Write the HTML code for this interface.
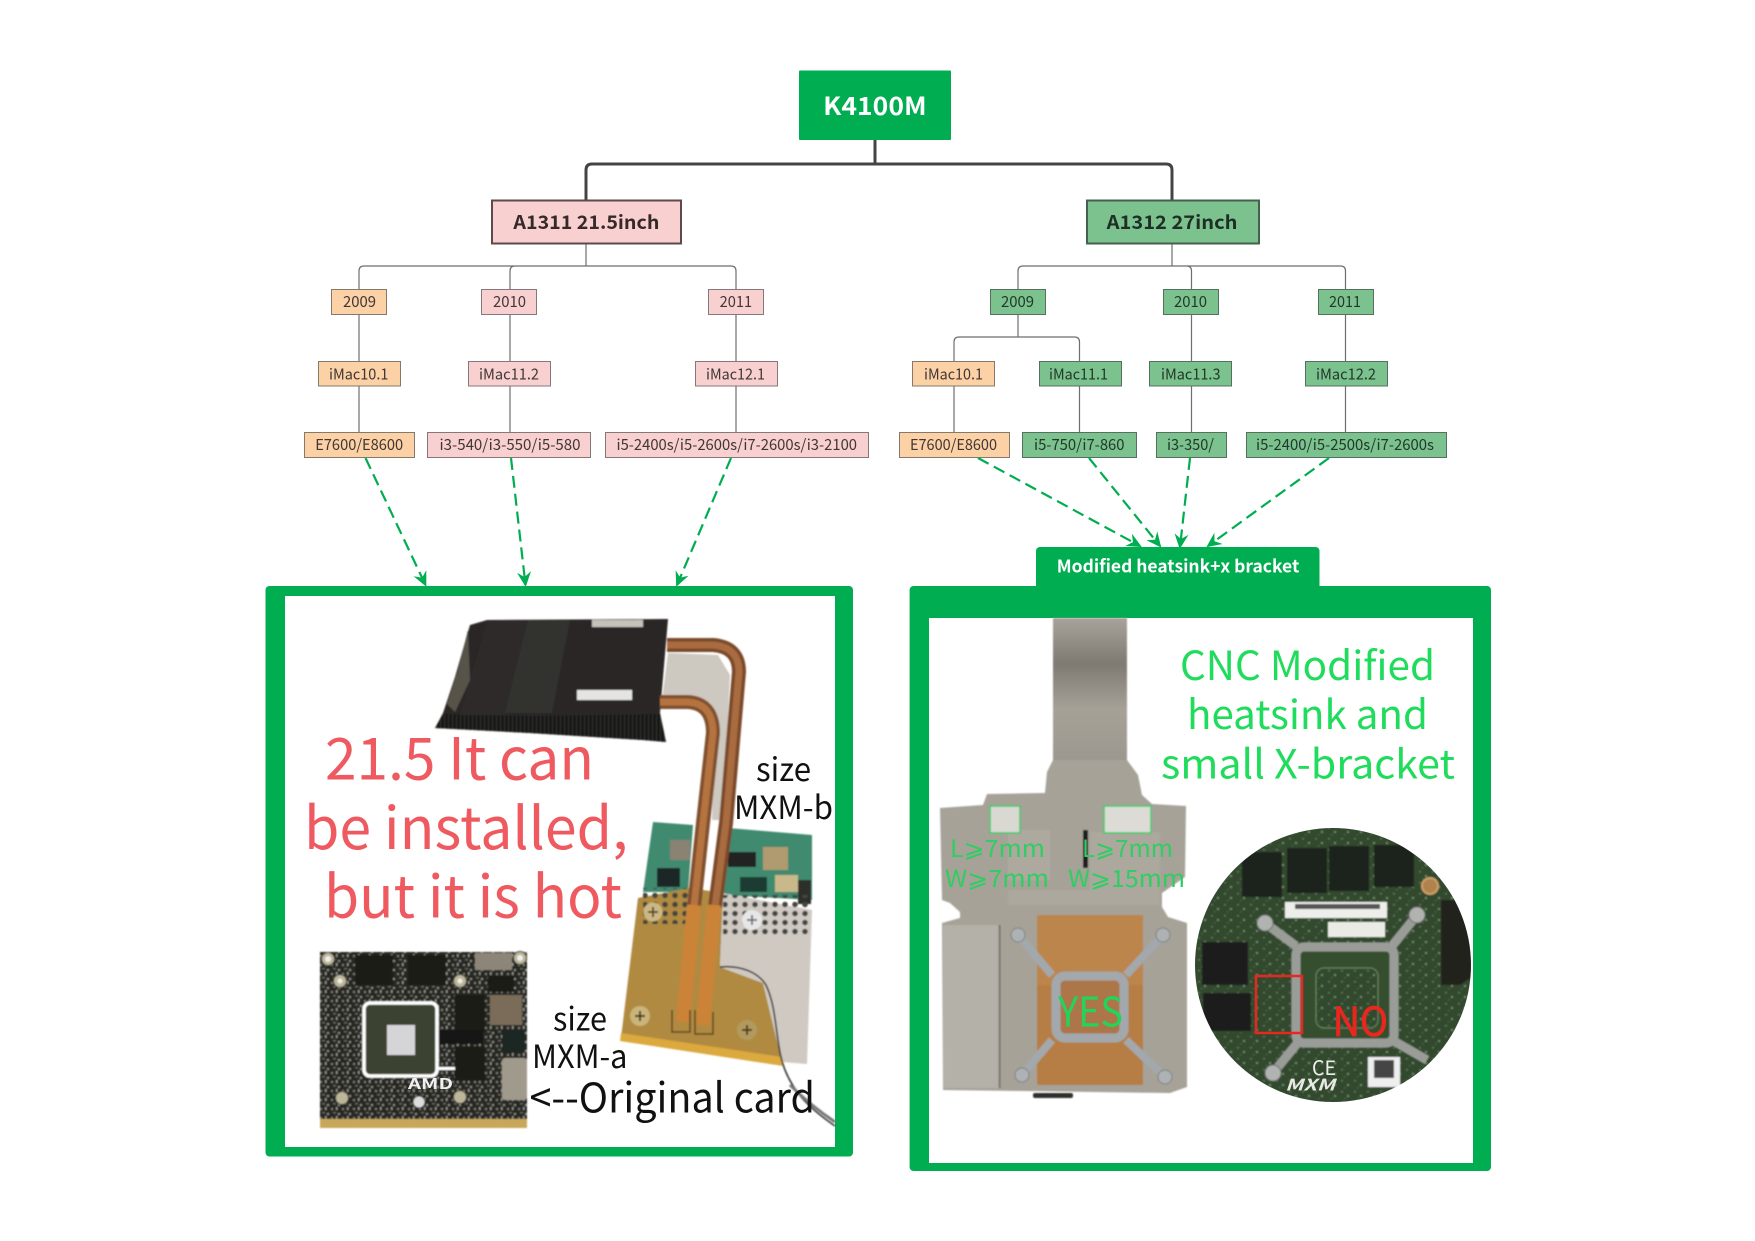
<!DOCTYPE html>
<html lang="en"><head><meta charset="utf-8"><title>K4100M</title>
<style>
html,body{margin:0;padding:0;background:#fff}
svg{display:block}
text{font-family:"Noto Sans CJK SC","Liberation Sans",sans-serif}
.y{font-size:15px;fill:#3f3636}
.g{font-size:15px;fill:#22382a}
.b{font-weight:700}
.r{font-size:58px;fill:#ee5a60}
.k{font-size:32px;fill:#111}
.c{font-size:40px;fill:#20dc5c}
.m{font-size:24px;fill:#2fce62}
</style></head><body>
<svg xmlns="http://www.w3.org/2000/svg" width="1755" height="1241" viewBox="0 0 1755 1241">
<defs>
<marker id="a" markerWidth="18" markerHeight="16" refX="13" refY="8" orient="auto" markerUnits="userSpaceOnUse"><path d="M0 1 L15 8 L0 15 L5 8Z" fill="#00ad50"/></marker>
<pattern id="sp" width="11" height="9" patternUnits="userSpaceOnUse"><rect width="11" height="9" fill="#262624"/><rect x="1" y="1" width="2" height="2" fill="#7c7c76"/><rect x="6" y="0" width="1.5" height="3" fill="#96968f"/><rect x="3" y="5" width="3" height="1.5" fill="#65655f"/><rect x="8" y="6" width="2" height="2" fill="#8b8b84"/></pattern>
<pattern id="gs" width="13" height="11" patternUnits="userSpaceOnUse"><rect width="13" height="11" fill="#33492d"/><rect x="2" y="2" width="2" height="1.5" fill="#5c7555"/><rect x="8" y="6" width="2" height="2" fill="#6f8a68"/><rect x="5" y="9" width="1.5" height="1.5" fill="#4a6344"/></pattern>
<pattern id="fin" width="4" height="4" patternUnits="userSpaceOnUse"><rect width="4" height="4" fill="#151413"/><rect width="1.2" height="4" fill="#302e2c"/></pattern>
<pattern id="dot" width="10" height="9" patternUnits="userSpaceOnUse"><circle cx="5" cy="4.5" r="2.8" fill="#45453f"/></pattern>
<linearGradient id="neck" x1="0" y1="0" x2="0" y2="1"><stop offset="0" stop-color="#a8a39a"/><stop offset=".3" stop-color="#7e7a72"/><stop offset=".6" stop-color="#a5a197"/><stop offset="1" stop-color="#9a968d"/></linearGradient>
<clipPath id="cc"><ellipse cx="1333" cy="965" rx="138" ry="137"/></clipPath>
<filter id="bl" x="-5%" y="-5%" width="110%" height="110%"><feGaussianBlur stdDeviation="0.7"/></filter>
</defs>

<!-- root connectors -->
<path d="M875 140V164M586 200V170Q586 164 592 164H1166Q1172 164 1172 170V200" fill="none" stroke="#444" stroke-width="3"/>
<g fill="none" stroke="#6e6e6e" stroke-width="1.2">
<path d="M586 243V266M359 289V271Q359 266 364 266H731Q736 266 736 271V289M510 289V271Q510 266 515 266H586"/>
<path d="M359 315V361M359 386V432M510 315V361M510 386V432M736 315V361M736 386V432"/>
<path d="M1172 243V266M1018 289V271Q1018 266 1023 266H1340.5Q1345.5 266 1345.5 271V289M1172 266H1186.5Q1191.5 266 1191.5 271V289"/>
<path d="M1018 315V337M954 361V342Q954 337 959 337H1074.5Q1079.5 337 1079.5 342V361"/>
<path d="M954 386V432M1079.5 386V432M1191.5 315V361M1191.5 386V432M1345.5 315V361M1345.5 386V432"/>
</g>

<!-- root -->
<rect x="799" y="70.5" width="152" height="69.5" rx="1" fill="#00ad50"/>
<text x="823.2" y="115" textLength="103.4" lengthAdjust="spacingAndGlyphs" font-size="25" font-weight="700" fill="#fff">K4100M</text>

<rect x="492" y="200.5" width="189" height="43" fill="#f8d0d0" stroke="#5e4a4a" stroke-width="2"/>
<text class="b" x="513.4" y="229" textLength="146" lengthAdjust="spacingAndGlyphs" font-size="19" fill="#35292a">A1311 21.5inch</text>
<rect x="1087" y="200.5" width="172" height="43" fill="#7bc28e" stroke="#44604e" stroke-width="2"/>
<text class="b" x="1106.7" y="229" textLength="130.8" lengthAdjust="spacingAndGlyphs" font-size="19" fill="#1f2f25">A1312 27inch</text>

<!-- years -->
<g stroke-width="1">
<rect x="331.5" y="289.5" width="55" height="25" fill="#fbd1a5" stroke="#85796c"/>
<rect x="481.5" y="289.5" width="55" height="25" fill="#f8d0d0" stroke="#85777a"/>
<rect x="708.5" y="289.5" width="55" height="25" fill="#f8d0d0" stroke="#85777a"/>
<rect x="990.5" y="289.5" width="55" height="25" fill="#7bc28e" stroke="#55705e"/>
<rect x="1163.5" y="289.5" width="55" height="25" fill="#7bc28e" stroke="#55705e"/>
<rect x="1318.5" y="289.5" width="55" height="25" fill="#7bc28e" stroke="#55705e"/>

<rect x="318.5" y="361.5" width="82" height="24.5" fill="#fbd1a5" stroke="#85796c"/>
<rect x="468.5" y="361.5" width="82" height="24.5" fill="#f8d0d0" stroke="#85777a"/>
<rect x="695.5" y="361.5" width="82" height="24.5" fill="#f8d0d0" stroke="#85777a"/>
<rect x="912.5" y="361.5" width="82" height="24.5" fill="#fbd1a5" stroke="#85796c"/>
<rect x="1039.5" y="361.5" width="82" height="24.5" fill="#7bc28e" stroke="#55705e"/>
<rect x="1149.5" y="361.5" width="82" height="24.5" fill="#7bc28e" stroke="#55705e"/>
<rect x="1305.5" y="361.5" width="82" height="24.5" fill="#7bc28e" stroke="#55705e"/>

<rect x="304.5" y="432.5" width="110" height="25" fill="#fbd1a5" stroke="#85796c"/>
<rect x="427.5" y="432.5" width="163" height="25" fill="#f8d0d0" stroke="#85777a"/>
<rect x="605.5" y="432.5" width="263" height="25" fill="#f8d0d0" stroke="#85777a"/>
<rect x="899.5" y="432.5" width="110" height="25" fill="#fbd1a5" stroke="#85796c"/>
<rect x="1022.5" y="432.5" width="114" height="25" fill="#7bc28e" stroke="#55705e"/>
<rect x="1156.5" y="432.5" width="70" height="25" fill="#7bc28e" stroke="#55705e"/>
<rect x="1246.5" y="432.5" width="200" height="25" fill="#7bc28e" stroke="#55705e"/>
</g>
<g>
<text class="y" x="343" y="307" textLength="33" lengthAdjust="spacingAndGlyphs">2009</text>
<text class="y" x="493" y="307" textLength="33" lengthAdjust="spacingAndGlyphs">2010</text>
<text class="y" x="719.6" y="307" textLength="32.5" lengthAdjust="spacingAndGlyphs">2011</text>
<text class="g" x="1001" y="307" textLength="33" lengthAdjust="spacingAndGlyphs">2009</text>
<text class="g" x="1174" y="307" textLength="33" lengthAdjust="spacingAndGlyphs">2010</text>
<text class="g" x="1329" y="307" textLength="32" lengthAdjust="spacingAndGlyphs">2011</text>

<text class="y" x="329" y="379.5" textLength="59.4" lengthAdjust="spacingAndGlyphs">iMac10.1</text>
<text class="y" x="479" y="379.5" textLength="60" lengthAdjust="spacingAndGlyphs">iMac11.2</text>
<text class="y" x="706" y="379.5" textLength="59" lengthAdjust="spacingAndGlyphs">iMac12.1</text>
<text class="y" x="924" y="379.5" textLength="59" lengthAdjust="spacingAndGlyphs">iMac10.1</text>
<text class="g" x="1049" y="379.5" textLength="59" lengthAdjust="spacingAndGlyphs">iMac11.1</text>
<text class="g" x="1161" y="379.5" textLength="59.5" lengthAdjust="spacingAndGlyphs">iMac11.3</text>
<text class="g" x="1316" y="379.5" textLength="60" lengthAdjust="spacingAndGlyphs">iMac12.2</text>

<text class="y" x="315.2" y="450" textLength="88" lengthAdjust="spacingAndGlyphs">E7600/E8600</text>
<text class="y" x="439.5" y="450" textLength="141" lengthAdjust="spacingAndGlyphs">i3-540/i3-550/i5-580</text>
<text class="y" x="616.5" y="450" textLength="240.5" lengthAdjust="spacingAndGlyphs">i5-2400s/i5-2600s/i7-2600s/i3-2100</text>
<text class="y" x="910" y="450" textLength="87" lengthAdjust="spacingAndGlyphs">E7600/E8600</text>
<text class="g" x="1034" y="450" textLength="90.5" lengthAdjust="spacingAndGlyphs">i5-750/i7-860</text>
<text class="g" x="1167" y="450" textLength="47" lengthAdjust="spacingAndGlyphs">i3-350/</text>
<text class="g" x="1256" y="450" textLength="178" lengthAdjust="spacingAndGlyphs">i5-2400/i5-2500s/i7-2600s</text>
</g>

<!-- dashed arrows -->
<g fill="none" stroke="#00ad50" stroke-width="2.2" stroke-dasharray="12 6">
<path d="M365.5 458L425.5 585" marker-end="url(#a)"/>
<path d="M511 458L525.5 585" marker-end="url(#a)"/>
<path d="M731 458L677 585" marker-end="url(#a)"/>
<path d="M978 458L1140 546" marker-end="url(#a)"/>
<path d="M1089 458L1160 546" marker-end="url(#a)"/>
<path d="M1190 458L1180 547" marker-end="url(#a)"/>
<path d="M1329 458L1208 546" marker-end="url(#a)"/>
</g>

<!-- LEFT PANEL -->
<rect x="265.5" y="586" width="587.5" height="570.5" rx="4" fill="#00ad50"/>
<rect x="285" y="596" width="550" height="551" fill="#fff"/>
<g filter="url(#bl)">
  <!-- heat sink -->
  <path d="M435 728L443 713L455 677L470 625L487 620L668 619L660 713L666 742L643 740L530 733Z" fill="#2b2826"/>
  <path d="M444 714L530 716L660 714L666 742L643 740L530 733L435 728Z" fill="url(#fin)"/>
  <path d="M460 715L487 622L528 620L505 715Z" fill="#2f2c29"/>
  <path d="M505 713L528 620L570 620L552 713Z" fill="#33302d"/>
  <path d="M447 704L458 670L468 630L470 680L455 712Z" fill="#595249"/>
  <rect x="592" y="620" width="51" height="7" fill="#c4c2ba"/>
  <rect x="577" y="690" width="55" height="10" fill="#e4e4e0"/>
  <!-- silver plate between pipes -->
  <path d="M668 653L718 655L730 675L723 820L712 820L713 733Q713 703 687 702L662 700Z" fill="#cdc8c0"/>
  <!-- board -->
  <path d="M653 822L693 825L688 892L643 892Z" fill="#3f8a6f"/>
  <path d="M728 828L812 835L812 900L723 895Z" fill="#3f8a6f"/>
  <rect x="657" y="868" width="23" height="19" fill="#1f2826"/>
  <rect x="670" y="840" width="20" height="20" fill="#8a8273"/>
  <rect x="728" y="852" width="28" height="15" fill="#222"/>
  <rect x="763" y="847" width="25" height="23" fill="#b09a70"/>
  <rect x="740" y="877" width="27" height="15" fill="#1f3a33"/>
  <rect x="775" y="875" width="23" height="17" fill="#c9b88a"/>
  <rect x="798" y="880" width="13" height="24" fill="#2d2d2a"/>
  <!-- plate -->
  <path d="M638 898L690 888L723 893L720 967L763 983L782 1062L621 1038Z" fill="#b08a40"/>
  <path d="M723 893L812 910L807 1064L782 1062L763 983L720 967Z" fill="#cfc9c2"/>
  <path d="M621 1033L782 1057L783 1066L620 1041Z" fill="#dba93e"/>
  <rect x="643" y="888" width="46" height="36" fill="url(#dot)"/>
  <rect x="723" y="895" width="88" height="42" fill="url(#dot)"/>
  <circle cx="653" cy="912" r="9.5" fill="#cbb884"/><path d="M648 912H658M653 907V917" stroke="#5a4a2a" stroke-width="2"/>
  <circle cx="752" cy="920" r="10" fill="#e7e7e8"/><path d="M747 920H757M752 915V925" stroke="#777" stroke-width="2"/>
  <circle cx="640" cy="1016" r="10" fill="#c9b47a"/><path d="M635 1016H645M640 1011V1021" stroke="#4a3a1a" stroke-width="2"/>
  <circle cx="747" cy="1030" r="10" fill="#b29a5e"/><path d="M742 1030H752M747 1025V1035" stroke="#4a3a1a" stroke-width="2"/>
  <!-- pipes -->
  <path d="M667 645H713Q739 647 739 672L726 823L715 907" fill="none" stroke="#7a4a2a" stroke-width="14"/>
  <path d="M667 645H713Q739 647 739 672L726 823L715 907" fill="none" stroke="#a96c40" stroke-width="7"/>
  <path d="M660 702H687Q713 703 713 733L703 823L694 907" fill="none" stroke="#80502e" stroke-width="14"/>
  <path d="M660 702H687Q713 703 713 733L703 823L694 907" fill="none" stroke="#b5733f" stroke-width="7"/>
  <path d="M694 905L683 1022" fill="none" stroke="#cb8338" stroke-width="14"/>
  <path d="M714 905L703 1025" fill="none" stroke="#cb8338" stroke-width="14"/>
  <path d="M672 1010V1032H690V1010M695 1010V1034H713V1012" fill="none" stroke="#5e4520" stroke-width="1.5"/>
  <!-- wire -->
  <path d="M720 967C740 965 758 972 766 985C778 1010 775 1045 785 1070C795 1095 812 1110 835 1126" fill="none" stroke="#333" stroke-width="1.6"/>
  <path d="M790 1085C805 1100 820 1112 835 1122" fill="none" stroke="#777" stroke-width="3"/>
</g>

<!-- AMD card -->
<g>
  <g filter="url(#bl)">
  <rect x="320" y="952" width="207" height="176" fill="url(#sp)"/>
  <rect x="320" y="1119" width="207" height="9" fill="#c9a75a"/>
  <rect x="355" y="955" width="38" height="30" fill="#1a1a19"/>
  <rect x="408" y="955" width="38" height="30" fill="#1a1a19"/>
  <rect x="455" y="995" width="30" height="37" fill="#1a1a19"/>
  <rect x="455" y="1046" width="30" height="35" fill="#1a1a19"/>
  <rect x="438" y="1030" width="45" height="14" fill="#171716"/>
  <rect x="502" y="1030" width="23" height="22" fill="#1e2624"/>
  <rect x="475" y="953" width="37" height="17" fill="#8c8578"/>
  <rect x="488" y="976" width="26" height="16" fill="#1a1a19"/>
  <rect x="490" y="995" width="32" height="30" fill="#7a6c58"/>
  <rect x="502" y="1058" width="25" height="42" rx="3" fill="#a09a8c"/>
  <rect x="364" y="1003" width="73" height="73" rx="6" fill="#3b4230" stroke="#fff" stroke-width="3.5"/>
  <rect x="387" y="1025" width="28" height="30" fill="#d5d5d8"/>
  <rect x="438" y="1067" width="17" height="3" fill="#fff"/>
  <g fill="#bdb69a" stroke="#3a372e">
  <circle cx="328" cy="959" r="6.5"/><circle cx="340" cy="981" r="6.5"/><circle cx="460" cy="981" r="6.5"/><circle cx="520" cy="958" r="6.5"/><circle cx="342" cy="1098" r="6.5"/><circle cx="460" cy="1097" r="6.5"/>
  </g>
  <g fill="#eee"><circle cx="328" cy="959" r="3"/><circle cx="520" cy="958" r="3"/><circle cx="340" cy="981" r="2.5"/><circle cx="460" cy="981" r="2.5"/></g>
  <circle cx="419" cy="1102" r="6" fill="#ddd" stroke="#222"/>
  </g>
  <text x="408" y="1089" textLength="45" lengthAdjust="spacingAndGlyphs" font-size="15" font-weight="700" fill="#f0f0f0">AMD</text>
</g>

<text class="r" x="325" y="779.5" textLength="269" lengthAdjust="spacingAndGlyphs">21.5 It can</text>
<text class="r" x="304" y="849" textLength="324" lengthAdjust="spacingAndGlyphs">be installed,</text>
<text class="r" x="324" y="917.5" textLength="298" lengthAdjust="spacingAndGlyphs">but it is hot</text>
<text class="k" x="756" y="781" textLength="55" lengthAdjust="spacingAndGlyphs">size</text>
<text class="k" x="734" y="819" textLength="99" lengthAdjust="spacingAndGlyphs">MXM-b</text>
<text class="k" x="553" y="1030.5" textLength="54" lengthAdjust="spacingAndGlyphs">size</text>
<text class="k" x="532" y="1068" textLength="95.5" lengthAdjust="spacingAndGlyphs">MXM-a</text>
<text x="529.5" y="1112.5" textLength="285.5" lengthAdjust="spacingAndGlyphs" font-size="41" fill="#111">&lt;--Original card</text>

<!-- RIGHT PANEL -->
<rect x="1036" y="547" width="283.5" height="45" rx="4" fill="#00ad50"/>
<rect x="909.6" y="586" width="581.4" height="585" rx="4" fill="#00ad50"/>
<rect x="929" y="618" width="544" height="545" fill="#fff"/>
<text x="1056.8" y="572.5" textLength="242.5" lengthAdjust="spacingAndGlyphs" font-size="17.5" font-weight="700" fill="#fff">Modified heatsink+x bracket</text>

<!-- right heat sink -->
<g filter="url(#bl)">
  <rect x="1053" y="618" width="74" height="152" fill="url(#neck)"/>
  <path d="M1053 760L1047 772L1045 793L987 794L983 805L940 808L942 900L950 903L960 912L960 918L942 923L943 1090L1170 1093L1187 1087L1187 923L1168 917L1162 907L1162 893L1185 877L1186 806L1152 804L1142 795L1138 775L1127 760Z" fill="#a6a298"/>
  <rect x="943" y="925" width="55" height="163" fill="#b4b1a8"/>
  <rect x="999" y="925" width="1.5" height="163" fill="#6e6b64"/>
  <path d="M1008 830H1050V880H1008Z" fill="#b2aea4" opacity=".6"/>
  <path d="M1090 832H1160V905H1008V890H1090Z" fill="#b0aca2" opacity=".6"/>
  <rect x="1083" y="830" width="5" height="38" fill="#1c1c1a"/>
  <rect x="1037" y="915" width="106" height="170" rx="2" fill="#b67e45"/>
  <path d="M1037 915H1143V985H1037Z" fill="#bc854c"/>
  <rect x="990" y="806" width="30" height="27" fill="#d9d8d2" stroke="#2ccb5f" stroke-width="1.5"/>
  <rect x="1104" y="806" width="47" height="27" fill="#dcdbd6" stroke="#2ccb5f" stroke-width="1.5"/>
  <!-- bracket -->
  <g fill="none" stroke="#a3a8ac" stroke-width="8">
    <path d="M1018 935L1052 975M1163 935L1126 975M1022 1075L1052 1040M1165 1077L1126 1040"/>
  </g>
  <rect x="1056" y="976" width="68" height="62" rx="9" fill="#ad7648" stroke="#a3a8ac" stroke-width="9"/>
  <g fill="#aeb2b5" stroke="#7b7f83"><circle cx="1018" cy="935" r="7"/><circle cx="1163" cy="935" r="7"/><circle cx="1022" cy="1075" r="7"/><circle cx="1165" cy="1077" r="7"/></g>
  <rect x="1033" y="1093" width="40" height="5" rx="2" fill="#2d2d2b"/>
</g>
<text class="m" x="950" y="857" textLength="95" lengthAdjust="spacingAndGlyphs">L⩾7mm</text>
<text class="m" x="1082" y="857" textLength="91" lengthAdjust="spacingAndGlyphs">L⩾7mm</text>
<text class="m" x="945" y="887" textLength="104" lengthAdjust="spacingAndGlyphs">W⩾7mm</text>
<text class="m" x="1068" y="887" textLength="117" lengthAdjust="spacingAndGlyphs">W⩾15mm</text>
<text x="1058" y="1026.5" textLength="65" lengthAdjust="spacingAndGlyphs" font-size="41" fill="#22d55a">YES</text>

<!-- right circular photo -->
<g clip-path="url(#cc)">
  <g filter="url(#bl)">
  <rect x="1190" y="825" width="285" height="280" fill="url(#gs)"/>
  <path d="M1441 900H1475V975L1460 985H1441Z" fill="#22241f"/>
  <rect x="1242" y="852" width="40" height="45" fill="#1e211d"/>
  <rect x="1287" y="848" width="40" height="45" fill="#1e211d"/>
  <rect x="1329" y="846" width="40" height="45" fill="#1e211d"/>
  <rect x="1374" y="845" width="40" height="42" fill="#1e211d"/>
  <rect x="1202" y="942" width="46" height="43" fill="#1c1e1c"/>
  <rect x="1203" y="993" width="48" height="38" fill="#1c1e1c"/>
  <rect x="1285" y="902" width="102" height="16" fill="#eeeeea"/>
  <rect x="1328" y="922" width="57" height="15" fill="#ebebe6"/>
  <rect x="1295" y="904" width="85" height="5" fill="#555"/>
  <circle cx="1430" cy="886" r="8" fill="#b2824e" stroke="#caa06a" stroke-width="2"/>
  <rect x="1368" y="1057" width="32" height="30" fill="#eee"/>
  <rect x="1374" y="1060" width="20" height="18" fill="#444"/>
  <g fill="none" stroke="#9a9c98" stroke-width="9">
    <path d="M1265 923L1296 946M1417 915L1392 946M1273 1073L1300 1040M1427 1060L1392 1040"/>
  </g>
  <rect x="1296" y="947" width="98" height="96" rx="8" fill="#35502e" stroke="#9a9c98" stroke-width="9"/>
  <rect x="1316" y="968" width="62" height="60" rx="8" fill="url(#gs)" stroke="#6c8864"/>
  <g fill="#b1b3b0" stroke="#6e706d"><circle cx="1265" cy="923" r="8"/><circle cx="1417" cy="915" r="8"/><circle cx="1273" cy="1073" r="8"/></g>
  </g>
  <text x="1312" y="1075" textLength="24" lengthAdjust="spacingAndGlyphs" font-size="20" fill="#eee">CE</text>
  <text x="1285" y="1090.7" textLength="50" lengthAdjust="spacingAndGlyphs" font-size="16" font-weight="700" font-style="italic" fill="#e8e8e4">MXM</text>
</g>
<rect x="1256" y="976" width="46" height="57" fill="none" stroke="#e8271f" stroke-width="2.5"/>
<text x="1332.7" y="1036" textLength="55.3" lengthAdjust="spacingAndGlyphs" font-size="40" fill="#e8271f" stroke="#e8271f" stroke-width=".8">NO</text>

<text class="c" x="1180" y="680" textLength="255" lengthAdjust="spacingAndGlyphs">CNC Modified</text>
<text class="c" x="1187" y="729" textLength="241" lengthAdjust="spacingAndGlyphs">heatsink and</text>
<text class="c" x="1161" y="778.5" textLength="294" lengthAdjust="spacingAndGlyphs">small X-bracket</text>
</svg>
</body></html>
